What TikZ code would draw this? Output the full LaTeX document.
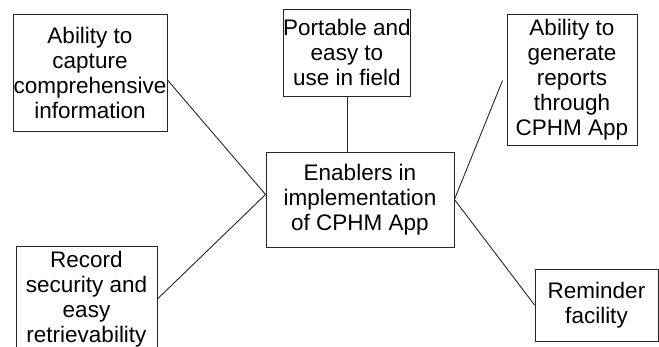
\documentclass[tikz,border=0pt]{standalone}
\usepackage{fontspec}
\setmainfont{Liberation Sans}
\usetikzlibrary{calc}
\tikzset{
  box/.style={draw=black!85, line width=0.9pt, rectangle, inner sep=0pt, align=center,
              font=\fontsize{22.5}{25}\selectfont},
  link/.style={draw=black!85, line width=0.9pt}
}
\begin{document}
\begin{tikzpicture}[x=1pt,y=-1pt]
\useasboundingbox (0,0) rectangle (659,347);
\node[box, minimum width=154pt, minimum height=117pt] (b1) at (90,72.5)
  {Ability to\\capture\\comprehensive\\information};
\node[box, minimum width=124pt, minimum height=87pt] (b2) at (347,52.5)
  {Portable and\\easy to\\use in field};
\node[box, minimum width=130pt, minimum height=131pt] (b3) at (572,79.5)
  {Ability to\\generate\\reports\\through\\CPHM App};
\node[box, minimum width=188pt, minimum height=95pt] (c) at (360,199.5)
  {Enablers in\\implementation\\of CPHM App};
\node[box, minimum width=141pt, minimum height=106pt] (b4) at (86.5,299)
  {Record\\security and\\easy\\retrievability};
\node[box, minimum width=123pt, minimum height=72pt] (b6) at (596.5,305)
  {Reminder\\facility};
\coordinate (cw) at ($(c.west)+(0,-5)$);
\draw[link] ($(b1.east)+(0,7.5)$) -- (cw);
\draw[link] (b4.east) -- (cw);
\draw[link] (b2.south) -- (c.north -| b2.south);
\draw[link] ($(b3.west)+(-4,1)$) -- (c.east);
\draw[link] (c.east) -- (b6.west);
\end{tikzpicture}
\end{document}
